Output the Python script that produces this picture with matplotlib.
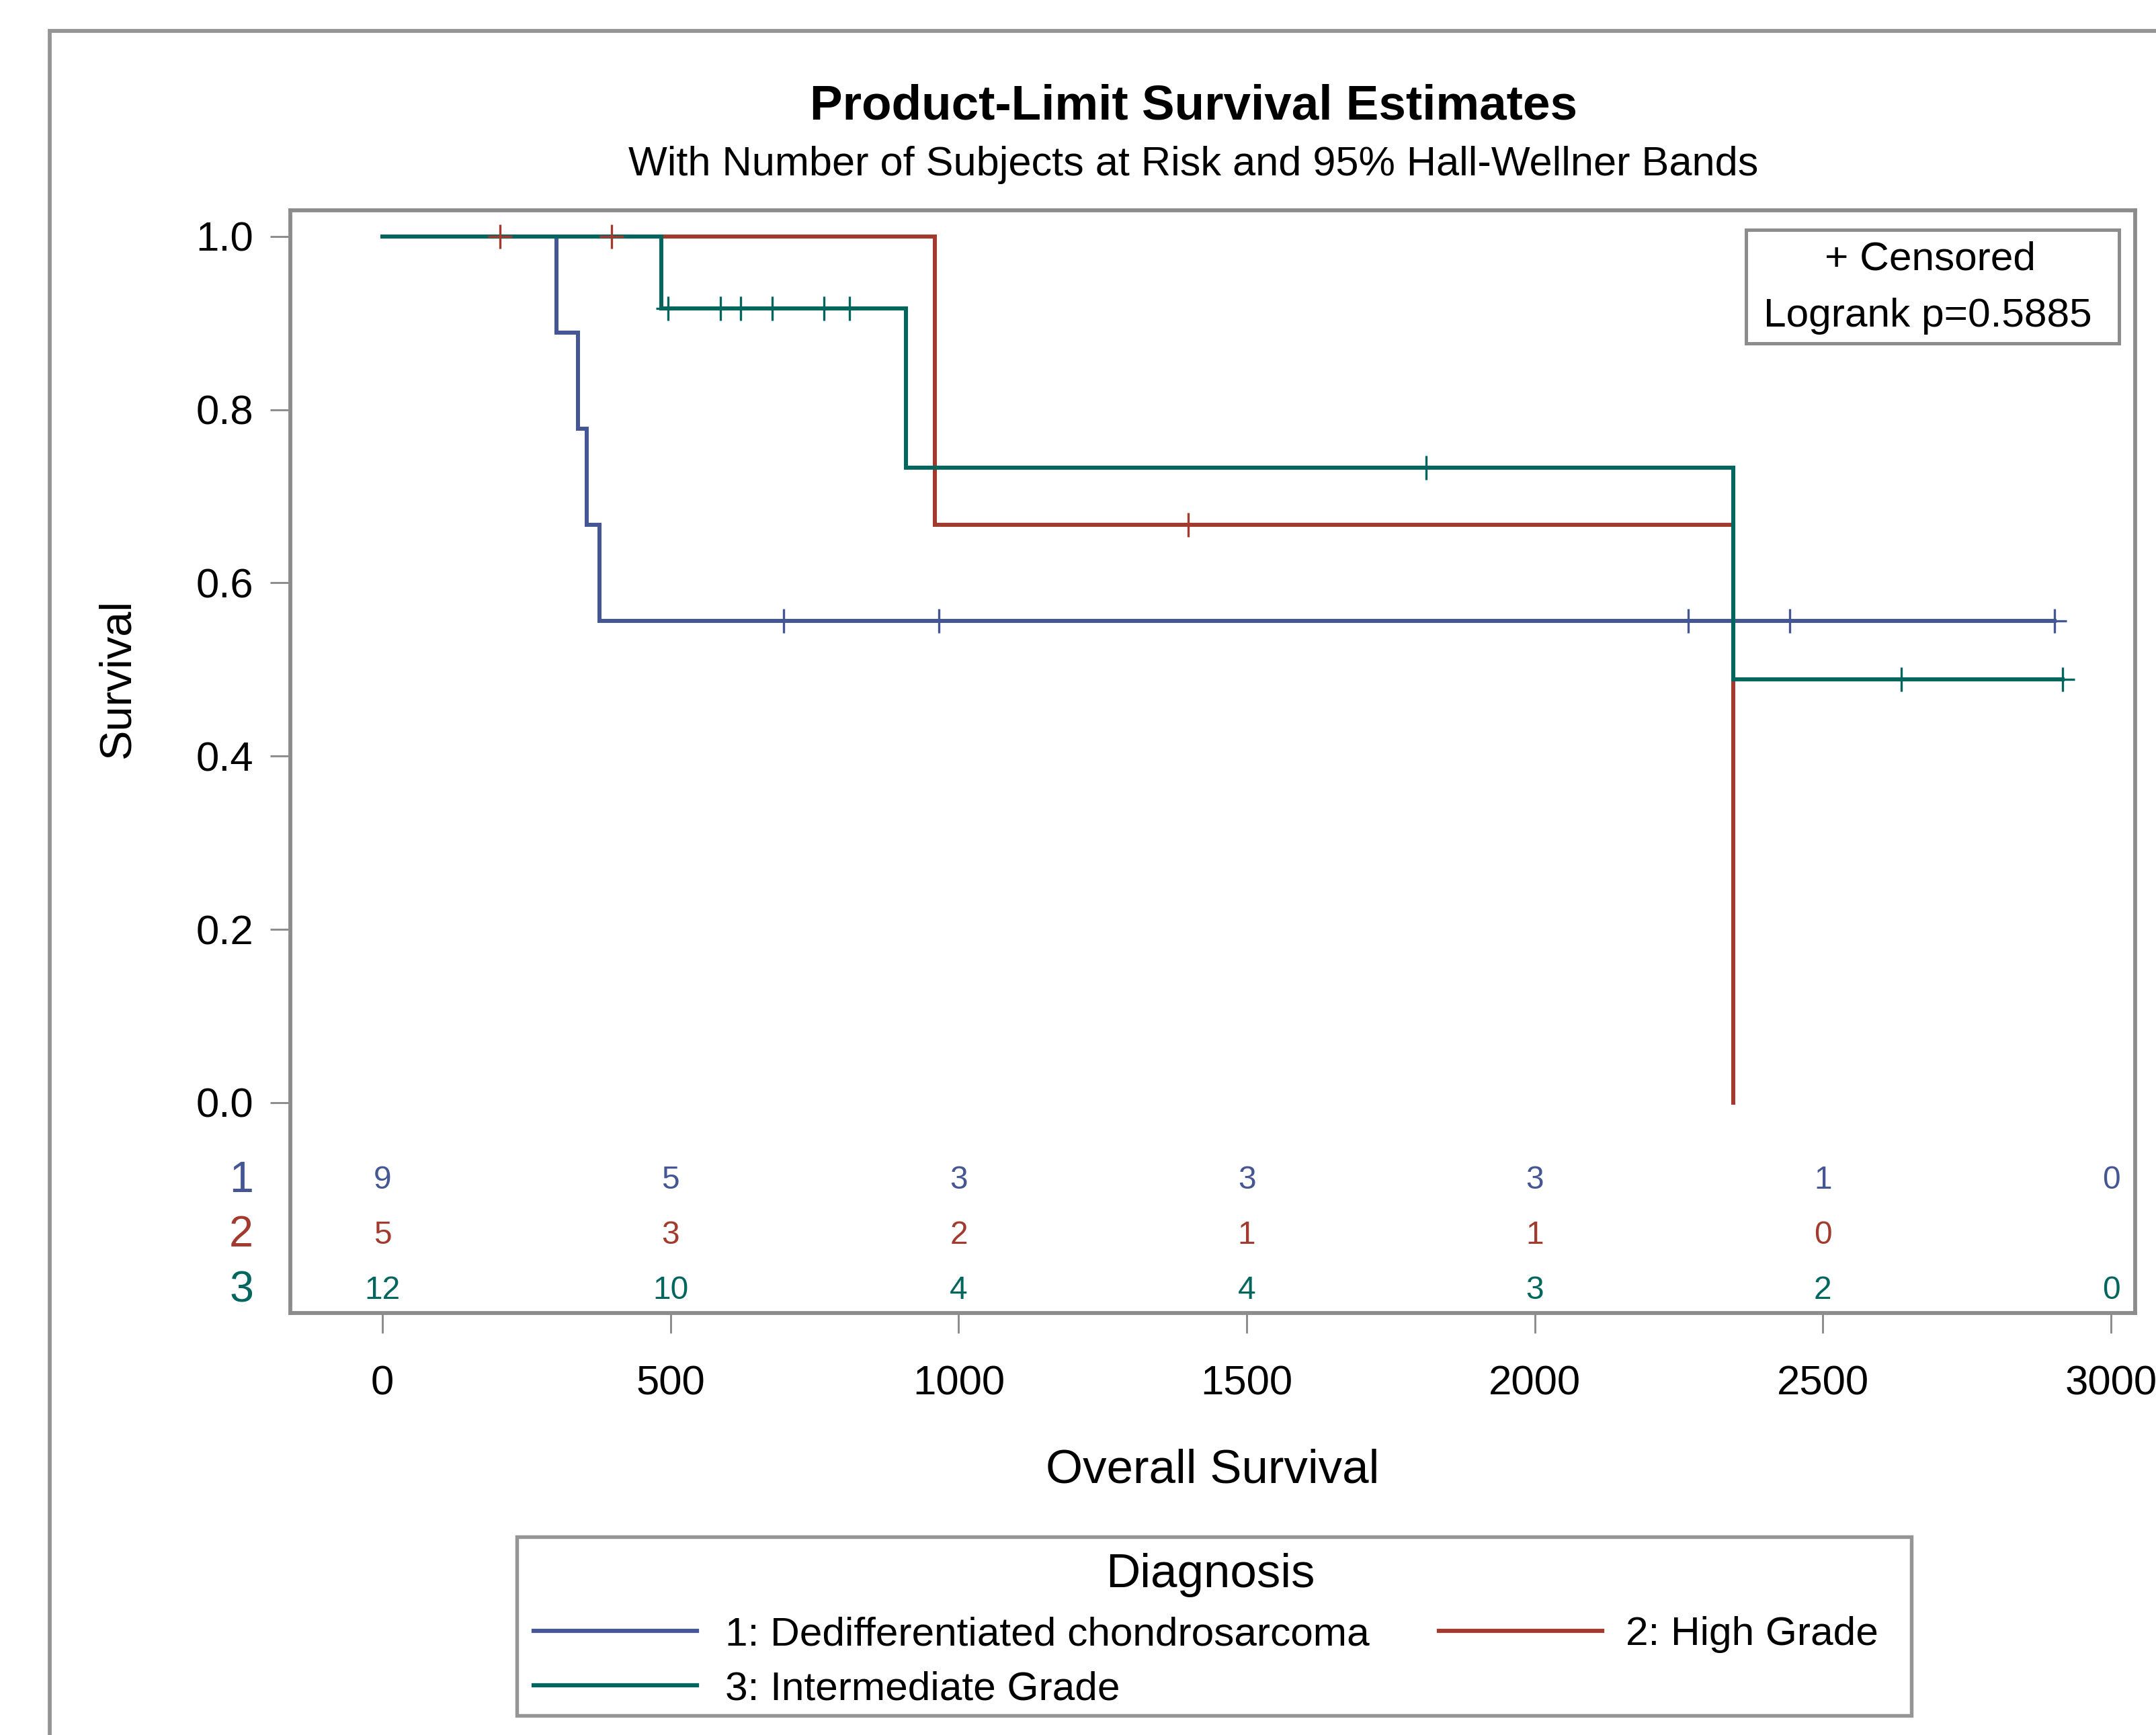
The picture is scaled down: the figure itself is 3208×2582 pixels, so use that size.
import numpy as np
import matplotlib
matplotlib.use('Agg')
from matplotlib import pyplot as plt
from matplotlib.lines import Line2D
from matplotlib.patches import Rectangle

plt.rcParams['font.family'] = ['Liberation Sans', 'DejaVu Sans']

W, H = 3208, 2582
DPI = 300

# group colours (SAS HTMLBlue)
colors = ['#445694', '#A23A2E', '#01665E']
grid_gray = '#8c8c8c'

# step times / survival levels
t1 = [0, 302, 339, 355, 377]
s1 = [1.0, 0.889, 0.778, 0.667, 0.556]
end1 = 2902
c1 = [696, 966, 2266, 2442, 2902]

t2 = [0, 959, 2345]
s2 = [1.0, 0.667, 0.0]
end2 = 2345
c2 = [204, 397, 1399]

t3 = [0, 484, 908, 2345]
s3 = [1.0, 0.917, 0.733, 0.489]
end3 = 2916
c3 = [496, 587, 621, 676, 766, 810, 1811, 2636, 2916]

# number at risk
risk_times = [0, 500, 1000, 1500, 2000, 2500, 3000]
risk1 = [9, 5, 3, 3, 3, 1, 0]
risk2 = [5, 3, 2, 1, 1, 0]
risk3 = [12, 10, 4, 4, 3, 2, 0]

groups = [(t1, s1, end1, c1, risk1), (t2, s2, end2, c2, risk2), (t3, s3, end3, c3, risk3)]
legend_labels = ['1: Dedifferentiated chondrosarcoma', '2: High Grade', '3: Intermediate Grade']
row_y = [-0.090, -0.153, -0.217]


def fx(px):
    return px / W


def fy(py):
    return 1 - py / H


fig = plt.figure(figsize=(W / DPI, H / DPI), dpi=DPI)
fig.patch.set_facecolor('white')

# outer frame (cut off at right/bottom)
fig.patches.append(Rectangle((fx(74), fy(2700)), fx(3400), fy(46) - fy(2700),
                             transform=fig.transFigure, fill=False,
                             edgecolor='#959595', linewidth=1.4))

ax = fig.add_axes([fx(432), fy(1954), fx(3177) - fx(432), fy(313) - fy(1954)])
ax.set_xlim(-160, 3042)
ax.set_ylim(-0.2428, 1.030)

for idx, (t, s, end, c, r) in enumerate(groups):
    xs = list(t) + [end]
    ys = list(s) + [s[-1]]
    ax.step(xs, ys, where='post', color=colors[idx], lw=1.45, solid_joinstyle='miter', zorder=2 + idx)

for idx, (t, s, end, c, r) in enumerate(groups):
    cy = [s[np.searchsorted(t, ci, side='right') - 1] for ci in c]
    ax.plot(c, cy, ls='none', marker='+', ms=8.8, mew=0.8, color=colors[idx], zorder=6)

# at-risk table inside the plot area
for idx, (t, s, end, c, r) in enumerate(groups):
    for xt, n in zip(risk_times, r):
        ax.text(xt, row_y[idx], str(n), ha='center', va='center', fontsize=11.5, color=colors[idx])
    ax.text(-245, row_y[idx], str(idx + 1), ha='center', va='center', fontsize=15.5, color=colors[idx],
            clip_on=False)

ax.set_xticks(risk_times)
ax.set_yticks([0.0, 0.2, 0.4, 0.6, 0.8, 1.0])
ax.set_yticklabels(['0.0', '0.2', '0.4', '0.6', '0.8', '1.0'])
ax.tick_params(axis='both', direction='out', length=7.2, width=0.7, color=grid_gray, labelsize=14.8)
ax.tick_params(axis='x', pad=11.5)
ax.tick_params(axis='y', pad=6)
for sp in ax.spines.values():
    sp.set_color(grid_gray)
    sp.set_linewidth(1.4)

ax.set_xlabel('Overall Survival', fontsize=17, labelpad=16)
fig.text(fx(176), fy(1010), 'Survival', rotation=90, ha='center', va='center', fontsize=16)

# censored / logrank box
fig.patches.append(Rectangle((fx(2598), fy(511)), fx(3153) - fx(2598), fy(342) - fy(511),
                             transform=fig.transFigure, fill=False, edgecolor=grid_gray, linewidth=1.2))
fig.text(fx(2872), fy(386), '+ Censored', ha='center', va='center', fontsize=14.5)
fig.text(fx(2868), fy(470), 'Logrank p=0.5885', ha='center', va='center', fontsize=14.5)

# titles
fig.text(fx(1776), fy(159), 'Product-Limit Survival Estimates', ha='center', va='center',
         fontsize=17.5, fontweight='bold')
fig.text(fx(1776), fy(245), 'With Number of Subjects at Risk and 95% Hall-Wellner Bands',
         ha='center', va='center', fontsize=14.7)

# legend box
fig.patches.append(Rectangle((fx(769), fy(2553)), fx(2844) - fx(769), fy(2287) - fy(2553),
                             transform=fig.transFigure, fill=False, edgecolor='#959595', linewidth=1.3))
fig.text(fx(1801), fy(2344), 'Diagnosis', ha='center', va='center', fontsize=17)
leg_pos = [((794, 1037), 1079, 2427), ((2141, 2384), 2419, 2427), ((794, 1037), 1079, 2508)]
for idx, ((lx0, lx1), tx, ly) in enumerate(leg_pos):
    fig.lines.append(Line2D([fx(lx0), fx(lx1)], [fy(ly), fy(ly)], transform=fig.transFigure,
                            color=colors[idx], lw=1.5))
    fig.text(fx(tx), fy(ly + 6), legend_labels[idx], ha='left', va='center', fontsize=14.5)

fig.savefig('out.png', dpi=DPI)
